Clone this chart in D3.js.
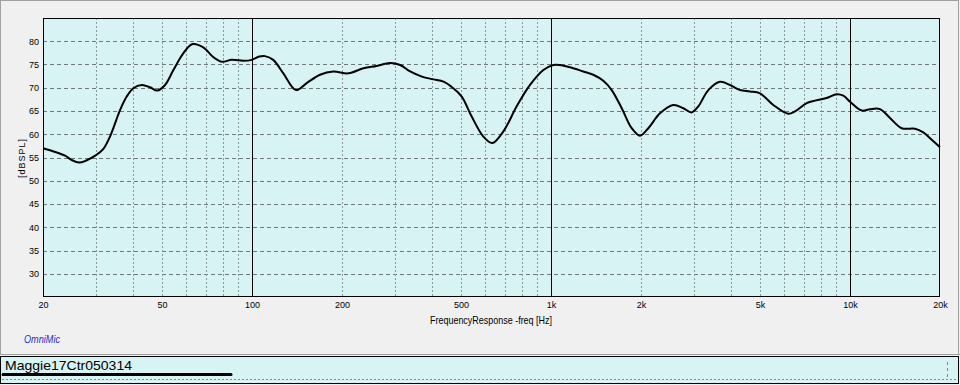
<!DOCTYPE html>
<html lang="en">
<head>
<meta charset="utf-8" />
<title>Frequency Response</title>
<style>
  * { margin: 0; padding: 0; }
  body { background: #f0f0f0; font-family: "Liberation Sans", Arial, sans-serif; }
  svg { display: block; }
  .tick text { font-size: 9px; fill: #000; }
</style>
</head>
<body>
<script src="https://d3js.org/d3.v7.min.js"></script>
<div id="chart"></div>
<script>

  // frequency response
  var freq = [20, 21.7, 23.7, 24.9, 26.4, 28.0, 29.9, 31.8, 33.5, 36.2, 38.1, 40.1, 42.8, 45.6, 48.2,
    51.2, 54.6, 58.9, 63.3, 68.7, 74.2, 79.2, 85.5, 93.5, 99.8, 105.8, 110.5, 117.8, 127.3, 140.4,
    152.4, 168.8, 187, 210, 236, 261, 289, 313, 338, 370, 404, 437, 471, 503, 543, 594, 636, 693,
    768, 851, 943, 1018, 1072, 1158, 1283, 1385, 1496, 1596, 1724, 1862, 1985, 2116, 2315, 2565,
    2770, 2955, 3110, 3359, 3676, 3970, 4286, 4628, 5000, 5540, 6219, 6548, 7166, 8358, 9026, 9497,
    10001, 10944, 11666, 12600, 13608, 14891, 16498, 17588, 18765, 20000];
  var spl = [57.0, 56.3, 55.4, 54.5, 53.9, 54.4, 55.4, 56.8, 59.5, 65.2, 68.1, 69.9, 70.6, 70.1, 69.4,
    70.6, 73.8, 77.4, 79.4, 78.7, 76.6, 75.6, 76.0, 75.8, 76.0, 76.7, 76.8, 76.0, 73.1, 69.5,
    71.0, 72.8, 73.5, 73.1, 74.2, 74.7, 75.3, 74.9, 73.5, 72.4, 71.8, 71.3, 69.9, 68.1, 63.8, 59.5, 58.1, 60.6,
    66.0, 70.6, 73.8, 74.9, 74.9, 74.4, 73.5, 72.8, 71.5, 69.5, 65.6, 61.3, 59.7, 61.3, 64.5, 66.3,
    65.6, 64.7, 66.0, 69.5, 71.3, 70.6, 69.5, 69.2, 68.8, 66.3, 64.4, 64.9, 66.7, 67.8, 68.6, 68.3,
    67.0, 65.1, 65.4, 65.4, 63.5, 61.3, 61.2, 60.4, 58.8, 57.2];

  var xTicks = [20, 50, 100, 200, 500, 1000, 2000, 5000, 10000, 20000];
  var xTickLabels = ["20", "50", "100", "200", "500", "1k", "2k", "5k", "10k", "20k"];
  var majorLines = [100, 1000, 10000];
  var minorLines = [30, 40, 50, 60, 70, 80, 90, 200, 300, 400, 500, 600, 700, 800, 900,
    2000, 3000, 4000, 5000, 6000, 7000, 8000, 9000];
  var yTicks = [30, 35, 40, 45, 50, 55, 60, 65, 70, 75, 80];

  var W = 960, H = 385;
  var margin = {top: 18, right: 20, bottom: 88, left: 43};
  var width = W - margin.left - margin.right,
      height = H - margin.top - margin.bottom;

  var svg = d3.select("#chart").append("svg")
      .attr("width", W)
      .attr("height", H);

  // outer panel frame
  svg.append("rect")
      .attr("x", 0.5).attr("y", 0.5)
      .attr("width", 958).attr("height", 354)
      .attr("fill", "#f0f0f0")
      .attr("stroke", "#a0a0a0");

  var g = svg.append("g")
      .attr("transform", "translate(" + margin.left + "," + margin.top + ")");

  var x = d3.scaleLog().domain([20, 20000]).range([0, width]);
  var y = d3.scaleLinear().domain([25, 85]).range([height, 0]);

  g.append("rect")
      .attr("width", width).attr("height", height)
      .attr("fill", "#d8f3f3");

  // grid
  g.selectAll(".hgrid")
      .data(yTicks)
    .enter().append("line")
      .attr("class", "hgrid")
      .attr("x1", 0).attr("x2", width)
      .attr("y1", function(d) { return Math.round(y(d)) + 0.5; })
      .attr("y2", function(d) { return Math.round(y(d)) + 0.5; })
      .attr("stroke", "#6e7a7a")
      .attr("stroke-dasharray", "4,3");

  g.selectAll(".vgrid")
      .data(minorLines)
    .enter().append("line")
      .attr("class", "vgrid")
      .attr("x1", function(d) { return Math.round(x(d)) + 0.5; })
      .attr("x2", function(d) { return Math.round(x(d)) + 0.5; })
      .attr("y1", 0).attr("y2", height)
      .attr("stroke", "#8a9a9a")
      .attr("stroke-dasharray", "2,2");

  g.selectAll(".vmajor")
      .data(majorLines)
    .enter().append("line")
      .attr("class", "vmajor")
      .attr("x1", function(d) { return Math.round(x(d)) + 0.5; })
      .attr("x2", function(d) { return Math.round(x(d)) + 0.5; })
      .attr("y1", 0).attr("y2", height)
      .attr("stroke", "#000");

  // axes
  var xAxis = g.append("g")
      .attr("transform", "translate(0," + height + ")")
      .call(d3.axisBottom(x)
        .tickValues(xTicks)
        .tickFormat(function(d, i) { return xTickLabels[i]; })
        .tickSize(0)
        .tickPadding(5));
  xAxis.select(".domain").remove();
  xAxis.selectAll("text").attr("transform", "scale(1,1)");

  var yAxis = g.append("g")
      .call(d3.axisLeft(y)
        .tickValues(yTicks)
        .tickSize(0)
        .tickPadding(4));
  yAxis.select(".domain").remove();

  g.append("rect")
      .attr("x", 0.5).attr("y", 0.5)
      .attr("width", width - 1).attr("height", height - 1)
      .attr("fill", "none")
      .attr("stroke", "#000");

  // response curve
  var line = d3.line()
      .x(function(d, i) { return x(freq[i]); })
      .y(function(d) { return y(d); })
      .curve(d3.curveCatmullRom);

  g.append("path")
      .datum(spl)
      .attr("fill", "none")
      .attr("stroke", "#000")
      .attr("stroke-width", 2)
      .attr("stroke-linejoin", "round")
      .attr("d", line);

  // axis titles
  svg.append("text")
      .attr("x", 491).attr("y", 324)
      .attr("text-anchor", "middle")
      .attr("font-size", "11px")
      .attr("textLength", 122)
      .attr("lengthAdjust", "spacingAndGlyphs")
      .text("FrequencyResponse -freq [Hz]");

  svg.append("text")
      .attr("transform", "translate(25,158) rotate(-90)")
      .attr("text-anchor", "middle")
      .attr("font-size", "9px")
      .attr("letter-spacing", "1px")
      .text("[dBSPL]");

  svg.append("text")
      .attr("x", 24).attr("y", 343)
      .attr("font-size", "11px")
      .attr("font-style", "italic")
      .attr("fill", "#2b2bd0")
      .attr("textLength", 36)
      .attr("lengthAdjust", "spacingAndGlyphs")
      .text("OmniMic");

  // legend strip
  svg.append("line")
      .attr("x1", 0).attr("x2", 960)
      .attr("y1", 354.5).attr("y2", 354.5)
      .attr("stroke", "#a0a0a0");

  svg.append("rect")
      .attr("x", 0.5).attr("y", 356.5)
      .attr("width", 958).attr("height", 27)
      .attr("fill", "#d8f3f3")
      .attr("stroke", "#000");

  svg.append("text")
      .attr("x", 5).attr("y", 370)
      .attr("font-size", "13px")
      .attr("textLength", 127)
      .attr("lengthAdjust", "spacingAndGlyphs")
      .text("Maggie17Ctr050314");

  svg.append("line")
      .attr("x1", 3).attr("x2", 231)
      .attr("y1", 374.5).attr("y2", 374.5)
      .attr("stroke", "#000")
      .attr("stroke-width", 3)
      .attr("stroke-linecap", "round");

  svg.append("line")
      .attr("x1", 2).attr("x2", 957)
      .attr("y1", 379.5).attr("y2", 379.5)
      .attr("stroke", "#888")
      .attr("stroke-dasharray", "2,2");

  svg.append("line")
      .attr("x1", 947.5).attr("x2", 947.5)
      .attr("y1", 362).attr("y2", 380)
      .attr("stroke", "#888")
      .attr("stroke-dasharray", "3,3");

</script>
</body>
</html>
